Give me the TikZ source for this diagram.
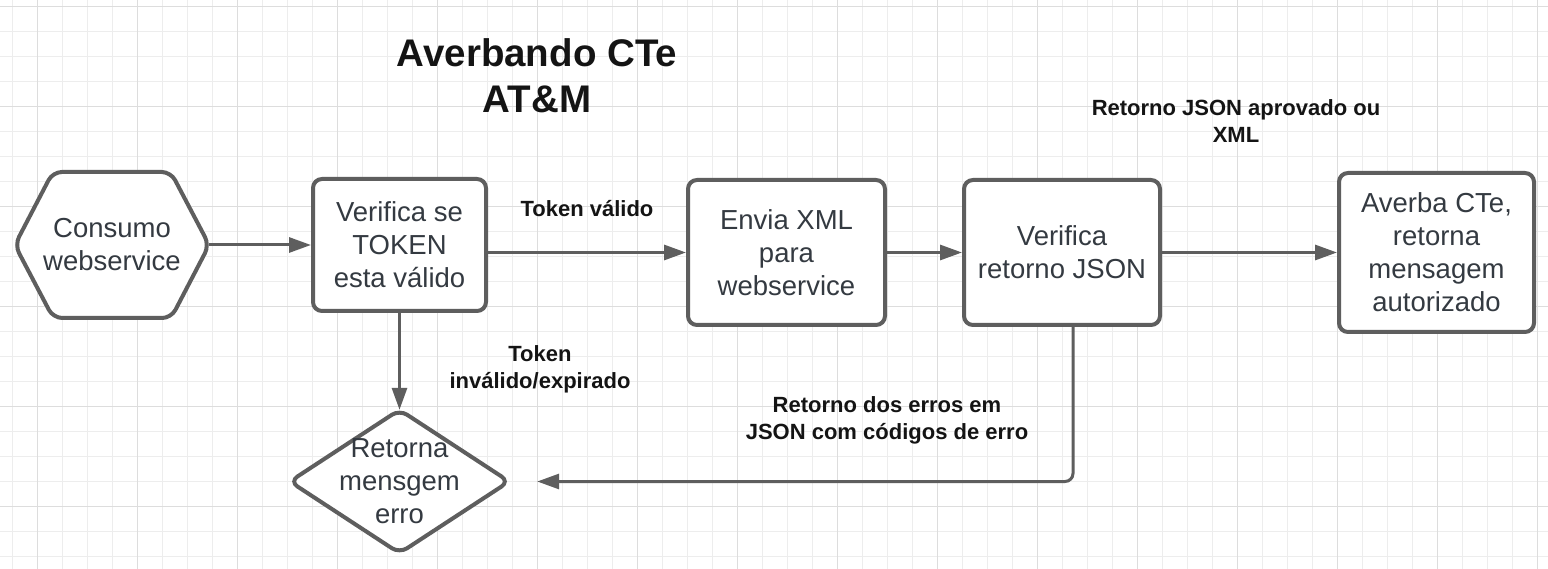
\documentclass[tikz,border=0pt]{standalone}
\usepackage{fontspec}
\setmainfont{Liberation Sans}
\usepackage{tikz}
\usetikzlibrary{arrows.meta, calc, backgrounds}
\usepackage{xcolor}

\definecolor{linha}{HTML}{5E5E5E}
\definecolor{texto}{HTML}{343A41}
\definecolor{gradefina}{HTML}{EDEDED}
\definecolor{gradeforte}{HTML}{DDDDDD}

\begin{document}
\begin{tikzpicture}[x=1pt, y=-1pt,
    caixa/.style={draw=linha, line width=4pt, rounded corners=9pt, fill=white, align=center,
        text=texto, font=\fontsize{27.5}{33}\selectfont, inner sep=0pt},
    forma/.style={align=center, text=texto, font=\fontsize{27.5}{33}\selectfont, inner sep=0pt},
    contorno/.style={draw=linha, line width=4pt, rounded corners=9pt, fill=white},
    seta/.style={draw=linha, line width=3pt, -{Triangle[length=22pt, width=15pt]}},
    rotulo/.style={align=center, text=black!92, font=\bfseries\fontsize{22}{27}\selectfont}]
                \useasboundingbox (0,0) rectangle (1548,569);

                % Grade
                \begin{scope}[on background layer]
                    \fill[white] (0,0) rectangle (1548,569);
                    \foreach \gx in {12.3,37.3,...,1548} \draw[gradefina, line width=1.3pt] (\gx,0) -- (\gx,569);
                    \foreach \gy in {6.7,31.7,...,569} \draw[gradefina, line width=1.3pt] (0,\gy) -- (1548,\gy);
                    \foreach \gx in {37.3,137.3,...,1548} \draw[gradeforte, line width=1.3pt] (\gx,0) -- (\gx,569);
                    \foreach \gy in {6.7,106.7,...,569} \draw[gradeforte, line width=1.3pt] (0,\gy) -- (1548,\gy);
                \end{scope}

                % Titulo
                \node[align=center, text=black!92, font=\bfseries\fontsize{38.5}{46}\selectfont] (titulo) at (537,76) {Averbando CTe\\AT\&M};

                % Etapas
                \node[forma, minimum width=194pt, minimum height=146pt] (consumo) at (112,245) {Consumo\\webservice};
                \node[caixa, minimum width=173pt, minimum height=132pt] (verifica) at (399.5,245) {Verifica se\\TOKEN\\esta válido};
                \node[caixa, minimum width=197pt, minimum height=145pt] (envia) at (786.5,252.5) {Envia XML\\para\\webservice};
                \node[caixa, minimum width=196pt, minimum height=145pt] (retorno) at (1062,252.5) {Verifica\\retorno JSON};
                \node[caixa, minimum width=195pt, minimum height=159pt] (averba) at (1436.5,252.5) {Averba CTe,\\retorna\\mensagem\\autorizado};
                \node[forma, minimum width=219pt, minimum height=143pt] (erro) at (399.5,481.5) {Retorna\\mensgem\\erro};

                % Hexagono e losango
                \begin{scope}[on background layer]
                    \draw[contorno] (consumo.west) -- ++(38,-73) -- ++(118,0) -- (consumo.east) -- ++(-38,73) -- ++(-118,0) -- cycle;
                    \draw[contorno] (erro.west) -- (erro.north) -- (erro.east) -- (erro.south) -- cycle;
                \end{scope}

                % Setas
                \coordinate (fimerro) at ($(erro.east)+(28,0)$);
                \draw[seta] (consumo.east) -- (verifica.west);
                \draw[seta] (verifica.east |- envia.west) -- (envia.west);
                \draw[seta] (envia.east) -- (retorno.west);
                \draw[seta] (retorno.east) -- (averba.west);
                \draw[seta] (verifica.south) -- (erro.north);
                \draw[seta, rounded corners=8pt] ([xshift=11pt]retorno.south) |- (fimerro);

                % Rotulos
                \node[rotulo] (tokenvalido) at (587,209) {Token válido};
                \node[rotulo] (tokeninvalido) at (540,369) {Token\\inválido/expirado};
                \node[rotulo] (retornook) at (1236,121) {Retorno JSON aprovado ou\\XML};
                \node[rotulo] (retornoerro) at (887,420) {Retorno dos erros em\\JSON com códigos de erro};
\end{tikzpicture}
\end{document}
